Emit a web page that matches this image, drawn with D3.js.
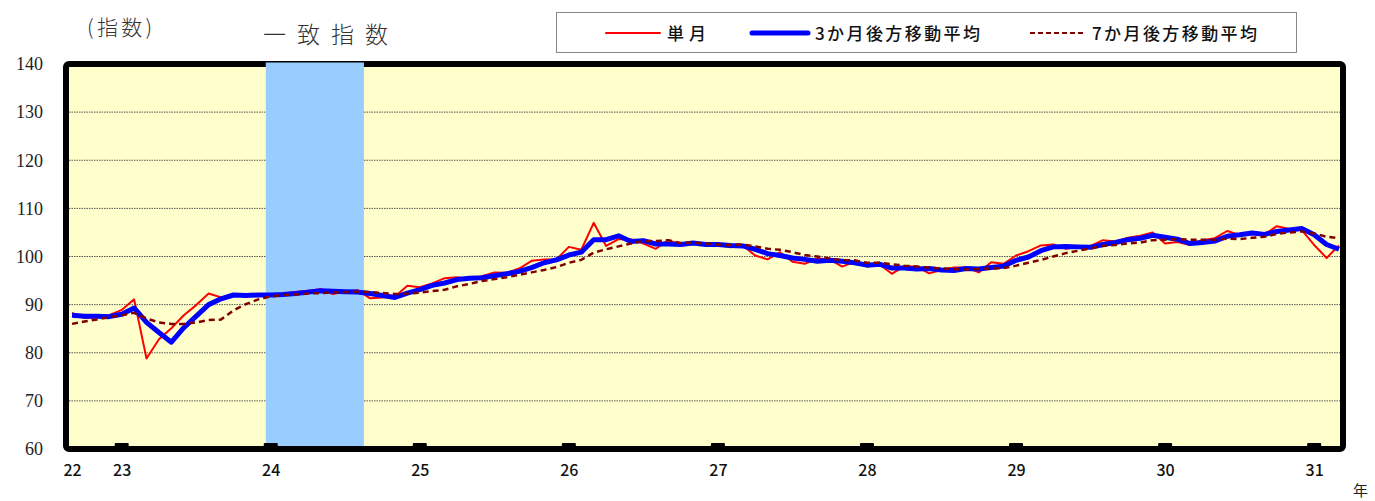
<!DOCTYPE html>
<html>
<head>
<meta charset="utf-8">
<script src="https://cdn.jsdelivr.net/npm/d3@7"></script>
<style>
  body { margin: 0; background: #fff; }
  svg { display: block; }
</style>
</head>
<body>
<svg id="chart" width="1375" height="501"></svg>
<script>
// 月次の一致指数 (H22年9月 〜 H31年3月)
var monthly = [88.3, 87.2, 87.4, 87.8, 88.9, 91.1, 78.8, 82.8, 85.1, 87.8, 89.9, 92.3,
    91.5, 92.1, 92.0, 92.0, 92.0, 92.3, 92.6, 92.9, 93.2, 92.2, 92.7, 93.0,
    91.3, 91.5, 91.7, 93.9, 93.6, 94.4, 95.5, 95.7, 95.3, 95.9, 96.7, 96.6,
    97.5, 99.1, 99.4, 99.4, 102.0, 101.4, 107.0, 102.2, 103.6, 103.6, 102.7, 101.6,
    103.4, 102.5, 102.6, 102.5, 102.4, 101.9, 102.3, 100.2, 99.4, 100.9, 98.9, 98.5,
    99.6, 99.4, 97.9, 98.9, 97.9, 98.4, 96.4, 98.0, 97.9, 96.5, 97.2, 97.7,
    97.7, 96.7, 98.8, 98.5, 100.2, 101.1, 102.3, 102.5, 101.6, 102.0, 102.2, 103.4,
    103.1, 103.9, 104.3, 105.0, 102.7, 103.0, 102.4, 103.4, 103.8, 105.3, 104.5, 104.8,
    104.6, 106.3, 105.7, 105.5, 102.4, 99.7, 102.3]

var avg3 = [87.8, 87.6, 87.6, 87.5, 88.0, 89.3, 86.3, 84.2, 82.2, 85.2, 87.6, 90.0,
    91.2, 92.0, 91.9, 92.0, 92.0, 92.1, 92.3, 92.6, 92.9, 92.8, 92.7, 92.6,
    92.3, 91.9, 91.5, 92.4, 93.1, 94.0, 94.5, 95.2, 95.5, 95.6, 96.0, 96.4,
    96.9, 97.7, 98.7, 99.3, 100.3, 100.9, 103.5, 103.5, 104.3, 103.1, 103.3, 102.6,
    102.6, 102.5, 102.8, 102.5, 102.5, 102.3, 102.2, 101.5, 100.6, 100.2, 99.7, 99.4,
    99.0, 99.2, 99.0, 98.7, 98.2, 98.4, 97.6, 97.6, 97.4, 97.5, 97.2, 97.1,
    97.5, 97.4, 97.7, 98.0, 99.2, 99.9, 101.2, 102.0, 102.1, 102.0, 101.9, 102.5,
    102.9, 103.5, 103.8, 104.4, 104.0, 103.6, 102.7, 102.9, 103.2, 104.2, 104.5, 104.9,
    104.6, 105.2, 105.5, 105.8, 104.5, 102.5, 101.5]

var avg7 = [86.0, 86.5, 86.9, 87.4, 87.8, 88.3, 87.1, 86.3, 86.0, 86.0, 86.3, 86.8,
    86.9, 88.8, 90.1, 91.1, 91.7, 92.0, 92.1, 92.3, 92.4, 92.5, 92.6, 92.7,
    92.6, 92.4, 92.2, 92.3, 92.5, 92.8, 93.1, 93.8, 94.3, 94.9, 95.3, 95.7,
    96.2, 96.7, 97.2, 97.8, 98.7, 99.3, 100.8, 101.5, 102.1, 102.7, 103.2, 103.2,
    103.4, 102.8, 102.9, 102.7, 102.5, 102.4, 102.5, 102.1, 101.6, 101.4, 100.9, 100.3,
    100.0, 99.6, 99.2, 99.2, 98.7, 98.7, 98.4, 98.1, 97.9, 97.7, 97.5, 97.4,
    97.3, 97.4, 97.5, 97.6, 98.1, 98.7, 99.3, 100.0, 100.7, 101.2, 101.7, 102.2,
    102.4, 102.7, 102.9, 103.4, 103.5, 103.6, 103.5, 103.5, 103.5, 103.7, 103.6, 103.9,
    104.1, 104.7, 105.0, 105.2, 104.8, 104.1, 103.8]

// 年ラベル (月番号の位置)
var yearIdx = [0, 4, 16, 28, 40, 52, 64, 76, 88, 100]
var yearLabels = ["22", "23", "24", "25", "26", "27", "28", "29", "30", "31"]
var janIdx = [4, 16, 28, 40, 52, 64, 76, 88, 100]
var yTicks = [60, 70, 80, 90, 100, 110, 120, 130, 140]
var gridTicks = [70, 80, 90, 100, 110, 120, 130]
// 景気後退期 (シャドー)
var recession = [15.6, 23.5]

var svg = d3.select("#chart")

var x = d3.scaleLinear().domain([0, monthly.length - 1]).range([72, 1339])
var y = d3.scaleLinear().domain([60, 140]).range([449, 64])

// frame
svg.append("rect")
    .attr("x", 66).attr("y", 64)
    .attr("width", 1277).attr("height", 385)
    .attr("rx", 3)
    .attr("fill", "#FFFFCC")
    .attr("stroke", "#000")
    .attr("stroke-width", 6)

// grid lines
svg.selectAll(".grid").data(gridTicks).enter().append("line")
    .attr("x1", 69).attr("x2", 1340)
    .attr("y1", function(d) { return y(d) }).attr("y2", function(d) { return y(d) })
    .attr("stroke", "#555")
    .attr("stroke-width", 1)
    .attr("stroke-dasharray", "1.5,1")

// shaded band
svg.append("rect")
    .attr("x", x(recession[0])).attr("y", 62.5)
    .attr("width", x(recession[1]) - x(recession[0]))
    .attr("height", 446 - 62.5)
    .attr("fill", "#99CCFF")

// year tick marks on the bottom
svg.selectAll(".janTick").data(janIdx).enter().append("rect")
    .attr("x", function(d) { return x(d) - 7 }).attr("y", 443)
    .attr("width", 14).attr("height", 6)
    .attr("rx", 1)
    .attr("fill", "#000")

// lines
var line = function(arr) {
    return d3.line()
        .x(function(d, i) { return x(i) })
        .y(function(d) { return y(d) })(arr)
}

svg.append("path").attr("d", line(monthly))
    .attr("fill", "none").attr("stroke", "#FF0000").attr("stroke-width", 2)
    .attr("stroke-linejoin", "round")

svg.append("path").attr("d", line(avg3))
    .attr("fill", "none").attr("stroke", "#0000FF").attr("stroke-width", 5)
    .attr("stroke-linejoin", "round")

svg.append("path").attr("d", line(avg7))
    .attr("fill", "none").attr("stroke", "#800000").attr("stroke-width", 2.5)
    .attr("stroke-dasharray", "6,4")

// y axis
var yAxis = svg.append("g")
    .attr("transform", "translate(66,0)")
    .call(d3.axisLeft(y).tickValues(yTicks).tickSize(0).tickPadding(23).tickFormat(d3.format("d")))
yAxis.select(".domain").remove()
yAxis.selectAll("text")
    .attr("font-family", "'Liberation Serif', 'DejaVu Serif', serif")
    .attr("font-size", 18)
    .attr("fill", "#222")

// x axis (year labels)
var xAxis = svg.append("g")
    .attr("transform", "translate(0,449)")
    .call(d3.axisBottom(x).tickValues(yearIdx).tickSize(0).tickPadding(16)
        .tickFormat(function(d, i) { return yearLabels[i] }))
xAxis.select(".domain").remove()
xAxis.selectAll("text")
    .attr("font-family", "'Noto Sans CJK JP', 'Liberation Sans', sans-serif")
    .attr("font-weight", 500)
    .attr("font-size", 16)
    .attr("fill", "#111")

svg.append("text")
    .attr("x", 1353).attr("y", 496)
    .attr("font-family", "'Noto Sans CJK JP', sans-serif")
    .attr("font-size", 15)
    .attr("fill", "#222")
    .text("年")

// titles
svg.append("text")
    .attr("x", 87).attr("y", 35)
    .attr("font-family", "'Noto Sans CJK JP', sans-serif")
    .attr("font-weight", 300)
    .attr("font-size", 21)
    .attr("textLength", 65)
    .attr("lengthAdjust", "spacing")
    .attr("fill", "#333")
    .text("(指数)")

svg.append("text")
    .attr("x", 263).attr("y", 43)
    .attr("font-family", "'Noto Sans CJK JP', sans-serif")
    .attr("font-weight", 300)
    .attr("font-size", 23)
    .attr("textLength", 125)
    .attr("lengthAdjust", "spacing")
    .attr("fill", "#333")
    .text("一 致 指 数")

// legend
var legend = svg.append("g")
legend.append("rect")
    .attr("x", 556.5).attr("y", 12.5)
    .attr("width", 740).attr("height", 40)
    .attr("fill", "#fff")
    .attr("stroke", "#888")

var legendItems = [
    { label: "単月", color: "#FF0000", width: 2, dash: null, x1: 606, x2: 660, tx: 667, tw: 39 },
    { label: "3か月後方移動平均", color: "#0000FF", width: 5, dash: null, x1: 752, x2: 808, tx: 815, tw: 165 },
    { label: "7か月後方移動平均", color: "#800000", width: 2, dash: "5,3", x1: 1030, x2: 1085, tx: 1092, tw: 165 }
]

legendItems.forEach(function(d) {
    legend.append("line")
        .attr("x1", d.x1).attr("x2", d.x2)
        .attr("y1", 33).attr("y2", 33)
        .attr("stroke", d.color)
        .attr("stroke-width", d.width)
        .attr("stroke-linecap", d.dash ? "butt" : "round")
        .attr("stroke-dasharray", d.dash)
    legend.append("text")
        .attr("x", d.tx).attr("y", 39.5)
        .attr("font-family", "'Noto Sans CJK JP', sans-serif")
        .attr("font-weight", 500)
        .attr("font-size", 17)
        .attr("textLength", d.tw)
        .attr("lengthAdjust", "spacing")
        .attr("fill", "#111")
        .text(d.label)
})
</script>
</body>
</html>
